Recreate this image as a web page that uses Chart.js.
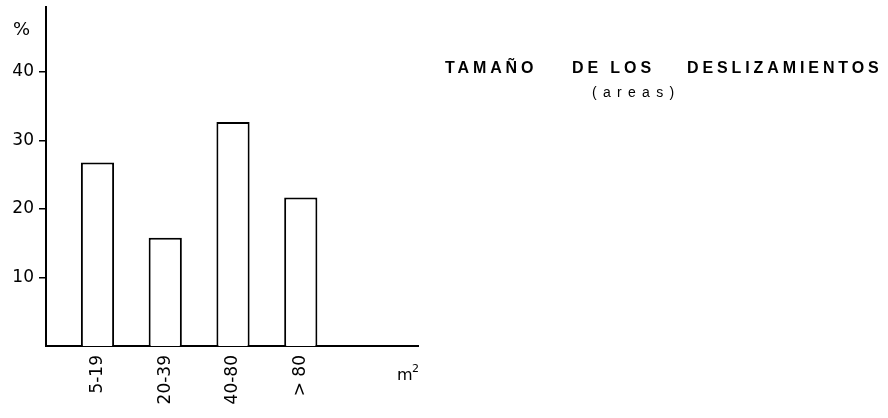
<!DOCTYPE html>
<html>
<head>
<meta charset="utf-8">
<script src="https://cdn.jsdelivr.net/npm/chart.js@4"></script>
<style>
  html, body { margin: 0; padding: 0; background: #fff; }
  #wrap { position: relative; width: 888px; height: 418px; font-family: "Liberation Sans", Arial, sans-serif; color: #000; }
  #c { position: absolute; left: 0; top: 0; }
  .t { position: absolute; white-space: pre; margin: 0; }
  .title { font-size: 16px; line-height: 16px; font-weight: bold; letter-spacing: 3.9px; top: 60px; }
  .sub { font-size: 14px; line-height: 14px; letter-spacing: 6.3px; top: 85px; left: 592px; }
</style>
</head>
<body>
<div id="wrap">
  <canvas id="c" width="888" height="418"></canvas>
  <div class="t title" style="left:445px">TAMAÑO</div>
  <div class="t title" style="left:572px">DE LOS</div>
  <div class="t title" style="left:687px">DESLIZAMIENTOS</div>
  <div class="t sub">(areas)</div>
  <div class="t" style="left:13px; top:20px; font-size:18px; line-height:18px; font-family:'DejaVu Sans', sans-serif;">%</div>
  <div class="t" style="left:397px; top:367px; font-size:16px; line-height:16px; font-family:'DejaVu Sans', sans-serif;">m</div>
  <div class="t" style="left:412px; top:363px; font-size:11px; line-height:11px; font-family:'DejaVu Sans', sans-serif;">2</div>
</div>
<script>
const categories = ['5-19', '20-39', '40-80', '> 80'];
const percentages = [26.8, 15.8, 32.7, 21.7];
const yTicks = [10, 20, 30, 40];

const chart = new Chart(document.getElementById('c'), {
  type: 'bar',
  data: {
    datasets: [{
      data: percentages.map((v, i) => ({ x: i + 1, y: v })),
      backgroundColor: '#ffffff',
      borderColor: '#000000',
      borderWidth: 2,
      categoryPercentage: 1,
      barPercentage: 0.49
    }]
  },
  options: {
    responsive: false,
    animation: false,
    layout: { padding: { left: 0, right: 470, top: 7, bottom: 0 } },
    plugins: { legend: { display: false }, tooltip: { enabled: false }, title: { display: false } },
    scales: {
      x: {
        type: 'linear',
        offset: false,
        min: 0.24,
        max: 5.73,
        afterBuildTicks: s => { s.ticks = categories.map((c, i) => ({ value: i + 1 })); },
        afterFit: s => { s.height = 72; s.paddingLeft = 0; s.paddingRight = 0; },
        ticks: {
          callback: v => categories[Math.round(v) - 1] || '',
          minRotation: 90,
          maxRotation: 90,
          autoSkip: false,
          padding: 9,
          color: '#000',
          font: { family: '"DejaVu Sans", sans-serif', size: 17 }
        },
        grid: { drawOnChartArea: false, drawTicks: false, offset: false },
        border: { display: true, color: '#000', width: 2 }
      },
      y: {
        min: 0,
        max: 49.5,
        afterBuildTicks: s => { s.ticks = yTicks.map(v => ({ value: v })); },
        afterFit: s => { s.width = 46; s.paddingTop = 0; s.paddingBottom = 0; },
        ticks: {
          color: '#000',
          padding: 5,
          font: { family: '"DejaVu Sans", sans-serif', size: 17 }
        },
        grid: { drawOnChartArea: false, drawTicks: true, tickLength: 7, color: '#000', lineWidth: 1.5 },
        border: { display: true, color: '#000', width: 2 }
      }
    }
  }
});
</script>
</body>
</html>
